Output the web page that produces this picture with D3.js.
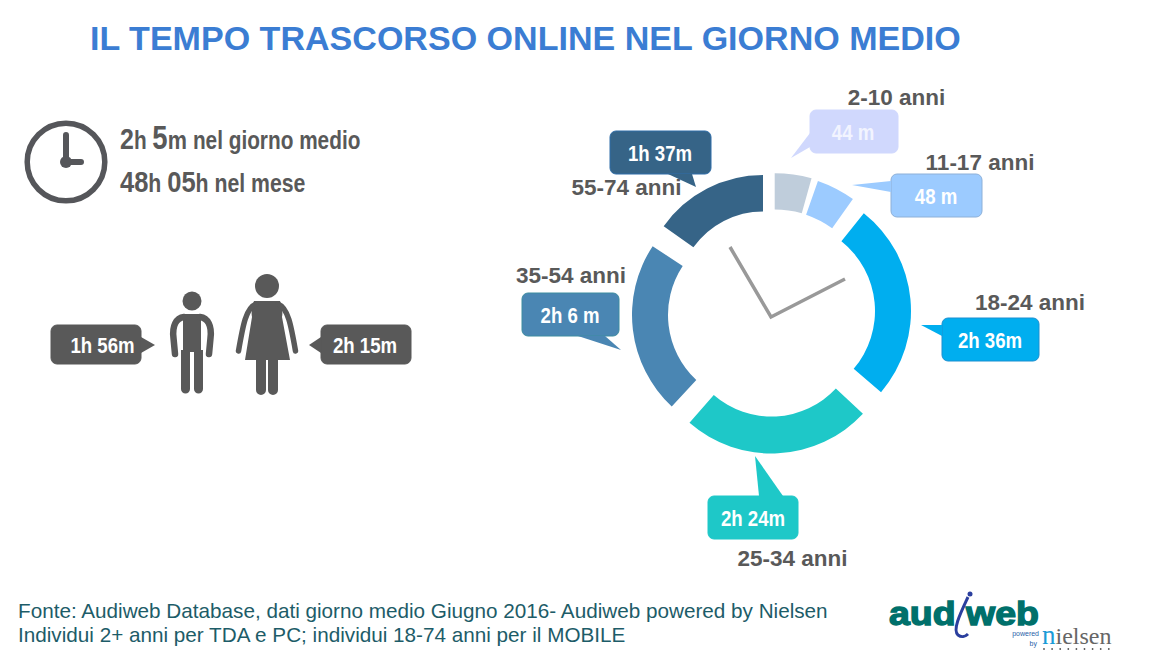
<!DOCTYPE html>
<html>
<head>
<meta charset="utf-8">
<script src="https://d3js.org/d3.v7.min.js"></script>
<style>
  body { margin: 0; background: #fff; }
  text { font-family: "Liberation Sans", Arial, sans-serif; }
</style>
</head>
<body>
<svg id="chart" width="1150" height="662"></svg>
<script>
// values
var ageGroups = ["2-10 anni", "11-17 anni", "18-24 anni", "25-34 anni", "35-54 anni", "55-74 anni"];
var timeLabels = ["44 m", "48 m", "2h 36m", "2h 24m", "2h 6 m", "1h 37m"];
var arcStartDeg = [0, 19.3, 38.5, 133, 223, 305.5];
var arcEndDeg = [15.6, 35.4, 130.5, 221, 303.4, 360];
var arcColors = ["#bfcddb", "#9ccbff", "#00aeef", "#1ec8c8", "#4a86b3", "#366487"];
var bubbleColors = ["#d0d8fd", "#9ccbff", "#00aeef", "#1ec8c8", "#4a86b3", "#366487"];
var bubbleBorders = ["#d0d8fd", "#8db0d8", "#1b8fd0", "#1ec8c8", "#3c8ca0", "#2f6da8"];
var genderLabels = ["1h 56m", "2h 15m"];

var svg = d3.select("#chart");
var grey = "#595959";

var angle = d3.scaleLinear().domain([0, 360]).range([0, 2 * Math.PI]);

// title
svg.append("text").attr("x", 90).attr("y", 50)
  .attr("font-size", 34.05).attr("font-weight", "bold").attr("fill", "#3b7dd3")
  .text("IL TEMPO TRASCORSO ONLINE NEL GIORNO MEDIO");

// every piece of the ring has its own centre and radii in the original
var arcLayout = [
  { x: 774.7, y: 310.3, r0: 100.7, r1: 137 },
  { x: 771.5, y: 313.5, r0: 104.7, r1: 140.5 },
  { x: 786, y: 311, r0: 89, r1: 125 },
  { x: 771.5, y: 328.5, r0: 88, r1: 125 },
  { x: 757, y: 315, r0: 89, r1: 125 },
  { x: 763, y: 297, r0: 85.5, r1: 122 }
];

svg.append("g").selectAll("path").data(ageGroups).enter().append("path")
  .attr("transform", function(d, i) { return "translate(" + arcLayout[i].x + "," + arcLayout[i].y + ")"; })
  .attr("d", function(d, i) {
    return d3.arc()({
      innerRadius: arcLayout[i].r0,
      outerRadius: arcLayout[i].r1,
      startAngle: angle(arcStartDeg[i]),
      endAngle: angle(arcEndDeg[i])
    });
  })
  .attr("fill", function(d, i) { return arcColors[i]; });

// hands of the big clock
svg.append("path").attr("d", "M730,247L771,317L845,279")
  .attr("fill", "none").attr("stroke", "#999").attr("stroke-width", 3.5);

// rect, tail (base, tip, base), text centre and age label place
var bubbleLayout = [
  { x: 810, y: 110, w: 88, h: 43, tx: 853, tail: [[810, 133], [791, 158], [810, 147]], lx: 896.5, ly: 105 },
  { x: 891, y: 174, w: 91, h: 43, tx: 936, tail: [[891, 181], [852, 185], [891, 192]], lx: 980, ly: 170 },
  { x: 942, y: 318, w: 97, h: 43, tx: 990, tail: [[942, 325], [921, 325], [942, 336]], lx: 1030, ly: 310 },
  { x: 708, y: 496, w: 90, h: 43, tx: 753, tail: [[759, 496], [755, 456], [783, 496]], lx: 792.5, ly: 566 },
  { x: 522, y: 293, w: 97, h: 43, tx: 570, tail: [[578, 336], [621, 350], [605, 336]], lx: 571, ly: 283 },
  { x: 610, y: 131, w: 101, h: 43, tx: 660, tail: [[668, 174], [696, 187], [692, 174]], lx: 626.5, ly: 195 }
];

// the original labels are set in a condensed face, so squeeze the installed one
function narrowText(x, y, anchor, squeeze) {
  return svg.append("text").attr("font-weight", "bold").attr("text-anchor", anchor)
    .attr("transform", "translate(" + x + "," + y + ") scale(" + squeeze + ",1)");
}

function bubble(x, y, w, h, tx, tail, fill, border, label, textColor) {
  svg.append("rect").attr("x", x).attr("y", y).attr("width", w).attr("height", h)
    .attr("rx", 6).attr("fill", fill).attr("stroke", border);
  svg.append("path").attr("d", "M" + tail.join("L") + "Z").attr("fill", fill);
  narrowText(tx, y + h / 2 + 8, "middle", 0.81).attr("font-size", 23).attr("fill", textColor).text(label);
}

bubbleLayout.forEach(function(b, i) {
  bubble(b.x, b.y, b.w, b.h, b.tx, b.tail, bubbleColors[i], bubbleBorders[i], timeLabels[i], i == 0 ? "#f2f4ff" : "#fff");
  svg.append("text").attr("x", b.lx).attr("y", b.ly).attr("text-anchor", "middle")
    .attr("font-size", 22.5).attr("font-weight", "bold").attr("fill", grey).text(ageGroups[i]);
});

bubble(51, 325, 90, 39, 102.5, [[141, 337], [155, 345], [141, 353]], grey, grey, genderLabels[0], "#fff");
bubble(321, 325, 90, 39, 365, [[321, 337], [309, 345], [321, 353]], grey, grey, genderLabels[1], "#fff");

// small clock
var clock = svg.append("g").attr("stroke", "#55565a").attr("fill", "none");
clock.append("circle").attr("cx", 66).attr("cy", 162).attr("r", 38.8).attr("stroke-width", 5.5);
clock.append("path").attr("d", "M66,135V162H81").attr("stroke-width", 6).attr("stroke-linecap", "round");
clock.append("circle").attr("cx", 66).attr("cy", 162).attr("r", 6).attr("fill", "#55565a").attr("stroke", "none");

// totals
function total(y, squeeze, parts) {
  var t = narrowText(120, y, "start", squeeze).attr("fill", grey);
  parts.forEach(function(p) { t.append("tspan").attr("font-size", p[1]).text(p[0]); });
}
total(149, 0.832, [["2", 30], ["h ", 25], ["5", 33], ["m ", 26], ["nel giorno medio", 25]]);
total(192, 0.85, [["48", 30], ["h ", 25], ["05", 30], ["h ", 25], ["nel mese", 25]]);

// boy
var people = svg.append("g").attr("fill", grey);
people.append("circle").attr("cx", 192).attr("cy", 301).attr("r", 9.5);
people.append("path").attr("d", "M183,314H201V350H203V389a4.5,4.5 0 0 1 -9,0V352H190V389a4.5,4.5 0 0 1 -9,0V350H183Z");
people.append("path").attr("fill", "none").attr("stroke", grey).attr("stroke-width", 6.5).attr("stroke-linecap", "round")
  .attr("d", "M184,317C176,318 172,326 173.5,338L175,354M200,317C208,318 212,326 210.5,338L209,354");

// woman
people.append("circle").attr("cx", 267).attr("cy", 286).attr("r", 12);
people.append("path").attr("d", "M254,301H280C282,306 283,312 282,317L290,360H278V390a5,5 0 0 1 -10,0V360H266V390a5,5 0 0 1 -10,0V360H245L252,317C251,312 252,306 254,301Z");
people.append("path").attr("fill", "none").attr("stroke", grey).attr("stroke-width", 5.5).attr("stroke-linecap", "round")
  .attr("d", "M256,304C246,308 243,325 238.5,351M278,304C288,308 291,325 295.5,351");

// source
svg.selectAll(".src").data([
  "Fonte: Audiweb Database, dati giorno medio Giugno 2016- Audiweb powered by Nielsen",
  "Individui 2+ anni per TDA e PC; individui 18-74 anni per il MOBILE"
]).enter().append("text")
  .attr("x", 18).attr("y", function(d, i) { return 618 + i * 24; })
  .attr("font-size", 20.7).attr("fill", "#1d5c68").text(function(d) { return d; });

// logo
svg.append("text").attr("x", 889).attr("y", 625).attr("font-size", 34).attr("font-weight", "900")
  .attr("fill", "#00706b").attr("stroke", "#00706b").attr("stroke-width", 1.4)
  .attr("textLength", 150).attr("lengthAdjust", "spacingAndGlyphs").text("aud web");
svg.append("path").attr("d", "M968,597C961,612 952,630 958,635C962,638 966,636 968,634")
  .attr("fill", "none").attr("stroke", "#2b3f9e").attr("stroke-width", 3);
svg.append("circle").attr("cx", 970).attr("cy", 594).attr("r", 2.5).attr("fill", "#2b3f9e");
svg.append("text").attr("x", 1039).attr("y", 636).attr("text-anchor", "end").attr("font-size", 7).attr("fill", "#2a5fa8").text("powered");
svg.append("text").attr("x", 1037).attr("y", 646).attr("text-anchor", "end").attr("font-size", 7).attr("fill", "#2a5fa8").text("by");
var logoName = svg.append("text").attr("x", 1042).attr("y", 644).attr("font-size", 24)
  .style("font-family", "'Liberation Serif', serif").attr("fill", "#666");
logoName.append("tspan").attr("fill", "#1a9bd7").attr("font-size", 27).text("n");
logoName.append("tspan").text("ielsen");
d3.range(9).forEach(function(i) {
  svg.append("circle").attr("cx", 1044 + i * 8.1).attr("cy", 649).attr("r", 0.9).attr("fill", "#555");
});
</script>
</body>
</html>
